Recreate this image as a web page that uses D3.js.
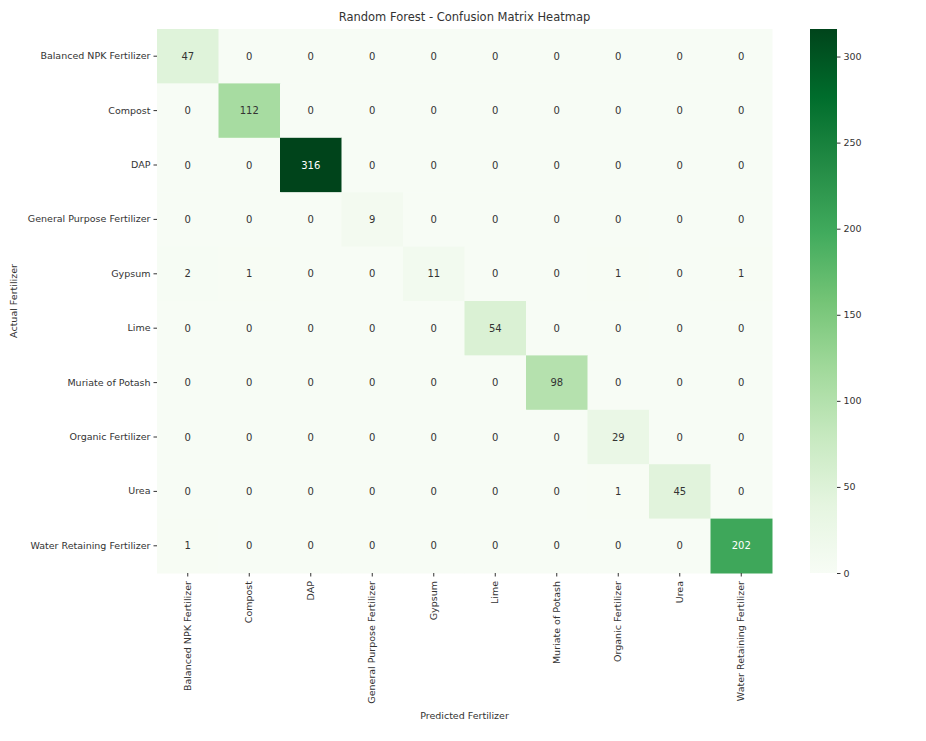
<!DOCTYPE html>
<html>
<head>
<meta charset="utf-8">
<script src="https://cdn.jsdelivr.net/npm/d3@7"></script>
<style>
  body { margin: 0; background: #fff; }
  svg text { font-family: "DejaVu Sans", sans-serif; }
</style>
</head>
<body>
<svg id="chart"></svg>
<script>
const labels = ["Balanced NPK Fertilizer", "Compost", "DAP", "General Purpose Fertilizer", "Gypsum",
    "Lime", "Muriate of Potash", "Organic Fertilizer", "Urea", "Water Retaining Fertilizer"];

// rows = actual, columns = predicted
const matrix = [
    [47, 0, 0, 0, 0, 0, 0, 0, 0, 0],
    [0, 112, 0, 0, 0, 0, 0, 0, 0, 0],
    [0, 0, 316, 0, 0, 0, 0, 0, 0, 0],
    [0, 0, 0, 9, 0, 0, 0, 0, 0, 0],
    [2, 1, 0, 0, 11, 0, 0, 1, 0, 1],
    [0, 0, 0, 0, 0, 54, 0, 0, 0, 0],
    [0, 0, 0, 0, 0, 0, 98, 0, 0, 0],
    [0, 0, 0, 0, 0, 0, 0, 29, 0, 0],
    [0, 0, 0, 0, 0, 0, 0, 1, 45, 0],
    [1, 0, 0, 0, 0, 0, 0, 0, 0, 202]
];

const colorbarTicks = [0, 50, 100, 150, 200, 250, 300];
const greens = ["#f7fcf5", "#e5f5e0", "#c7e9c0", "#a1d99b", "#74c476", "#41ab5d", "#238b45", "#006d2c", "#00441b"];

const width = 926, height = 741;
const svg = d3.select("#chart").attr("width", width).attr("height", height);

const plotLeft = 157, plotTop = 29, plotRight = 772, plotBottom = 573;

const x = d3.scaleBand().domain(labels).range([plotLeft, plotRight]);
const y = d3.scaleBand().domain(labels).range([plotTop, plotBottom]);

const vmax = d3.max(matrix.flat());
const color = d3.scaleLinear()
    .domain(greens.map((c, i) => vmax * i / (greens.length - 1)))
    .range(greens);

const cells = [];
matrix.forEach((row, i) => row.forEach((v, j) => cells.push({ actual: labels[i], predicted: labels[j], value: v })));

svg.append("g").selectAll("rect")
    .data(cells)
    .join("rect")
    .attr("x", d => x(d.predicted))
    .attr("y", d => y(d.actual))
    .attr("width", x.bandwidth() + 0.5)
    .attr("height", y.bandwidth() + 0.5)
    .attr("fill", d => color(d.value));

svg.append("g").selectAll("text")
    .data(cells)
    .join("text")
    .attr("x", d => x(d.predicted) + x.bandwidth() / 2)
    .attr("y", d => y(d.actual) + y.bandwidth() / 2)
    .attr("text-anchor", "middle")
    .attr("dominant-baseline", "central")
    .attr("font-size", 10)
    .attr("fill", d => d.value / vmax > 0.55 ? "#ffffff" : "#333333")
    .text(d => d.value);

// axes
const yAxis = svg.append("g")
    .attr("transform", `translate(${plotLeft},0)`)
    .call(d3.axisLeft(y).tickSize(3.5).tickPadding(3));
yAxis.select(".domain").remove();
yAxis.selectAll("text").attr("font-size", 9.5).attr("fill", "#333");
yAxis.selectAll("line").attr("stroke", "#333");

const xAxis = svg.append("g")
    .attr("transform", `translate(0,${plotBottom})`)
    .call(d3.axisBottom(x).tickSize(3.5).tickPadding(3));
xAxis.select(".domain").remove();
xAxis.selectAll("line").attr("stroke", "#333");
xAxis.selectAll("text")
    .attr("font-size", 9.5)
    .attr("fill", "#333")
    .attr("transform", "rotate(-90)")
    .attr("text-anchor", "end")
    .attr("dy", "0.32em")
    .attr("x", -8)
    .attr("y", 0);

// title and labels
svg.append("text")
    .attr("x", (plotLeft + plotRight) / 2)
    .attr("y", 21)
    .attr("text-anchor", "middle")
    .attr("font-size", 11.5)
    .attr("fill", "#333")
    .text("Random Forest - Confusion Matrix Heatmap");

svg.append("text")
    .attr("x", (plotLeft + plotRight) / 2)
    .attr("y", 719)
    .attr("text-anchor", "middle")
    .attr("font-size", 9.5)
    .attr("fill", "#333")
    .text("Predicted Fertilizer");

svg.append("text")
    .attr("transform", `translate(17,${(plotTop + plotBottom) / 2}) rotate(-90)`)
    .attr("text-anchor", "middle")
    .attr("font-size", 9.5)
    .attr("fill", "#333")
    .text("Actual Fertilizer");

// colorbar
const cbX = 810, cbW = 27;
const cbScale = d3.scaleLinear().domain([0, vmax]).range([plotBottom, plotTop]);

const defs = svg.append("defs");
const grad = defs.append("linearGradient")
    .attr("id", "cbGrad")
    .attr("x1", 0).attr("y1", 1).attr("x2", 0).attr("y2", 0);
greens.forEach((c, i) => {
    grad.append("stop").attr("offset", i / (greens.length - 1)).attr("stop-color", c);
});

svg.append("rect")
    .attr("x", cbX)
    .attr("y", plotTop)
    .attr("width", cbW)
    .attr("height", plotBottom - plotTop)
    .attr("fill", "url(#cbGrad)");

const cbAxis = svg.append("g")
    .attr("transform", `translate(${cbX + cbW},0)`)
    .call(d3.axisRight(cbScale).tickValues(colorbarTicks).tickSize(3.5).tickPadding(3));
cbAxis.select(".domain").remove();
cbAxis.selectAll("line").attr("stroke", "#333");
cbAxis.selectAll("text").attr("font-size", 9.5).attr("fill", "#333");
</script>
</body>
</html>
